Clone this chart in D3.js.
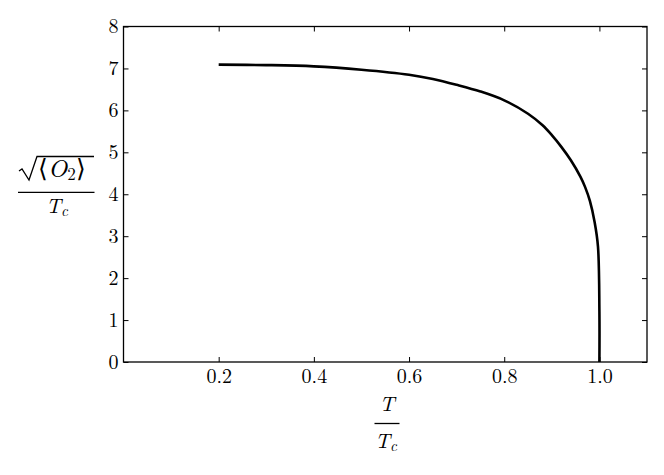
<!DOCTYPE html>
<html><head><meta charset="utf-8">
<script src="https://cdn.jsdelivr.net/npm/d3@7"></script>
<style>
body{margin:0;background:#fff;}
svg{display:block;}
</style></head>
<body>
<script>
const tempRatio = [0.2,0.3,0.4,0.5,0.6,0.65,0.7,0.75,0.8,0.85,0.88,0.9,0.92,0.94,0.96,0.97,0.98,0.99,0.997,1.0,1.0];
const condensate = [7.09,7.08,7.05,6.97,6.85,6.75,6.61,6.45,6.24,5.92,5.65,5.41,5.13,4.81,4.42,4.17,3.84,3.33,2.75,1.2,0];
const xTicks = [0.2,0.4,0.6,0.8,1.0];
const yTicks = [0,1,2,3,4,5,6,7,8];

const FONT = "'Latin Modern Roman'";
const W=664,H=475;
const m={left:123.5,right:17,top:26.5,bottom:113};
const svg=d3.select("body").append("svg").attr("width",W).attr("height",H);
const x=d3.scaleLinear().domain([0,1.1]).range([m.left,W-m.right]);
const y=d3.scaleLinear().domain([0,8]).range([H-m.bottom,m.top]);

const g=svg.append("g");
g.append("g").attr("transform",`translate(0,${y(0)})`)
 .call(d3.axisBottom(x).tickValues(xTicks).tickFormat(d3.format(".1f")).tickSizeInner(-5).tickSizeOuter(0).tickPadding(7));
g.append("g").attr("transform",`translate(0,${y(8)})`)
 .call(d3.axisTop(x).tickValues(xTicks).tickFormat("").tickSizeInner(-5).tickSizeOuter(0));
g.append("g").attr("transform",`translate(${x(0)},0)`)
 .call(d3.axisLeft(y).tickValues(yTicks).tickFormat(d3.format("d")).tickSizeInner(-5).tickSizeOuter(0).tickPadding(5));
g.append("g").attr("transform",`translate(${x(1.1)},0)`)
 .call(d3.axisRight(y).tickValues(yTicks).tickFormat("").tickSizeInner(-5).tickSizeOuter(0));
svg.selectAll(".domain").remove();
svg.selectAll(".tick line").attr("stroke","#000").attr("stroke-width",1);
svg.selectAll(".tick text").attr("fill","#000").attr("font-family",null).style("font-family",FONT).style("font-size","20px");
svg.append("rect").attr("x",x(0)).attr("y",y(8)).attr("width",x(1.1)-x(0)).attr("height",y(0)-y(8))
 .attr("fill","none").attr("stroke","#000").attr("stroke-width",1.3);

const pts=tempRatio.map((t,i)=>[t,condensate[i]]);
svg.append("path").datum(pts)
 .attr("d",d3.line().x(d=>x(d[0])).y(d=>y(d[1])).curve(d3.curveCatmullRom.alpha(0.5)))
 .attr("fill","none").attr("stroke","#000").attr("stroke-width",2.6).attr("stroke-linejoin","round");

// x label
const xl=svg.append("g").style("font-family",FONT).attr("font-size",21).attr("font-style","italic");
xl.append("text").attr("x",387).attr("y",411).attr("text-anchor","middle").text("T");
xl.append("line").attr("x1",374.5).attr("x2",399.5).attr("y1",423.5).attr("y2",423.5).attr("stroke","#000").attr("stroke-width",1.3);
const xd=xl.append("text").attr("x",386).attr("y",448).attr("text-anchor","middle");
xd.append("tspan").text("T");
xd.append("tspan").attr("font-size",15).attr("dy",3).text("c");

// y label
const yl=svg.append("g").style("font-family",FONT).attr("font-size",25);
yl.append("path").attr("d","M19,171 L22,169 L29,180 L37,156.5 L94,156.5")
 .attr("fill","none").attr("stroke","#000").attr("stroke-width",1.3);
const yn=yl.append("text").attr("x",38).attr("y",177);
yn.append("tspan").text("\u27E8");
yn.append("tspan").attr("font-style","italic").text("O");
yn.append("tspan").attr("font-size",17).attr("dy",3).text("2");
yn.append("tspan").attr("dy",-3).text("\u27E9");
yl.append("line").attr("x1",18).attr("x2",94.5).attr("y1",192.3).attr("y2",192.3).attr("stroke","#000").attr("stroke-width",1.3);
const yd=yl.append("text").attr("x",57).attr("y",213).attr("text-anchor","middle").attr("font-style","italic").attr("font-size",21);
yd.append("tspan").text("T");
yd.append("tspan").attr("font-size",15).attr("dy",3).text("c");
</script>
</body></html>
